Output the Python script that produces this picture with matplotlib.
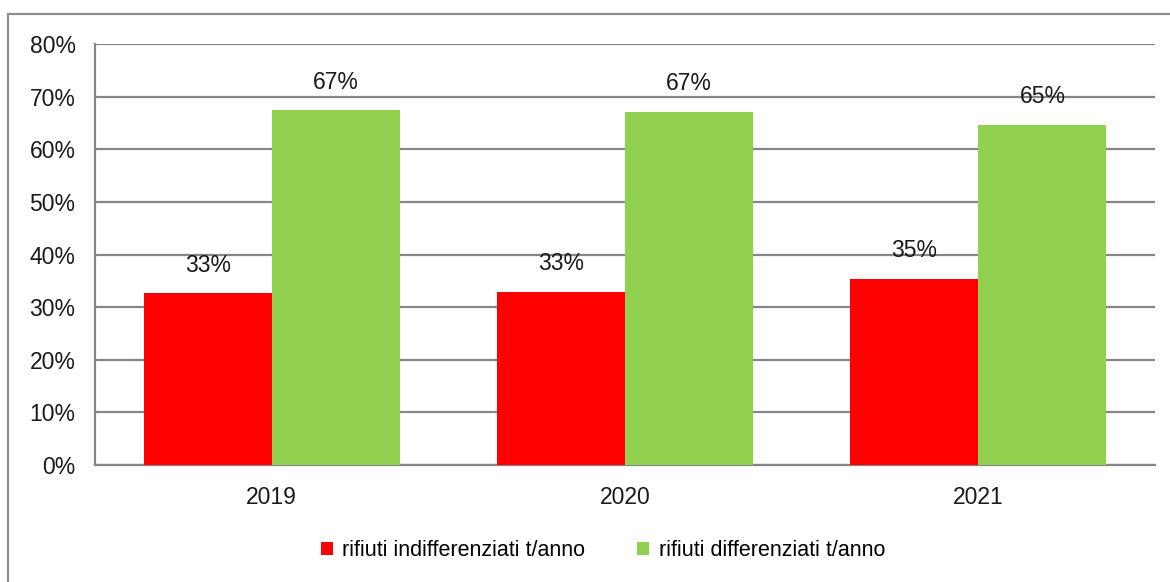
import numpy as np
import matplotlib
matplotlib.use("Agg")
import matplotlib.pyplot as plt
from matplotlib.patches import Rectangle, Patch

plt.rcParams["font.family"] = ["Liberation Sans", "DejaVu Sans"]

# --- Data ---
years = ["2019", "2020", "2021"]
indifferenziati = [32.6, 32.9, 35.4]   # %
differenziati = [67.4, 67.1, 64.6]     # %
series_names = ["rifiuti indifferenziati t/anno", "rifiuti differenziati t/anno"]
yticks = [0, 10, 20, 30, 40, 50, 60, 70, 80]

RED = "#FF0000"
GREEN = "#92D050"
GRID = "#868686"
FS = 16.5

fig = plt.figure(figsize=(11.7, 5.82), dpi=100)
ax = fig.add_axes([95 / 1170, 1 - 465 / 582, (1155 - 95) / 1170, (465 - 44) / 582])

x = np.arange(len(years))
w = 0.3626
b1 = ax.bar(x - w / 2, indifferenziati, w, color=RED, zorder=3)
b2 = ax.bar(x + w / 2, differenziati, w, color=GREEN, zorder=3)

for bars, vals in ((b1, indifferenziati), (b2, differenziati)):
    for rect, v in zip(bars, vals):
        ax.annotate(f"{v:.0f}%", (rect.get_x() + rect.get_width() / 2, v),
                    xytext=(0, 12), textcoords="offset points",
                    ha="center", va="bottom", fontsize=FS, color="#1a1a1a", zorder=4)

ax.set_xlim(-0.5, len(years) - 0.5)
ax.set_ylim(0, 80)
ax.set_yticks(yticks)
ax.set_yticklabels([f"{t}%" for t in yticks])
ax.set_xticks(x)
ax.set_xticklabels(years)
ax.tick_params(axis="both", length=0, labelsize=FS, colors="#1a1a1a")
ax.tick_params(axis="y", pad=14)
ax.tick_params(axis="x", pad=15)
ax.yaxis.grid(True, color=GRID, linewidth=1.6, zorder=0)
ax.set_axisbelow(True)
for side in ("top", "right"):
    ax.spines[side].set_visible(False)
for side in ("left", "bottom"):
    ax.spines[side].set_color(GRID)
    ax.spines[side].set_linewidth(1.6)

# legend
handles = [Patch(facecolor=RED), Patch(facecolor=GREEN)]
fig.legend(handles, series_names, loc="center", bbox_to_anchor=(603 / 1170, 1 - 551 / 582),
           ncol=2, frameon=False, fontsize=15.5, handlelength=0.55, handleheight=0.55,
           handletextpad=0.45, columnspacing=2.4)

# outer chart frame (cropped on right and bottom in the reference)
fig.patches.append(Rectangle((8 / 1170, -0.2), 1.5, 1.2 - 14 / 582, transform=fig.transFigure,
                             fill=False, edgecolor="#8c8c8c", linewidth=1.6))

fig.savefig("out.png", dpi=100)
